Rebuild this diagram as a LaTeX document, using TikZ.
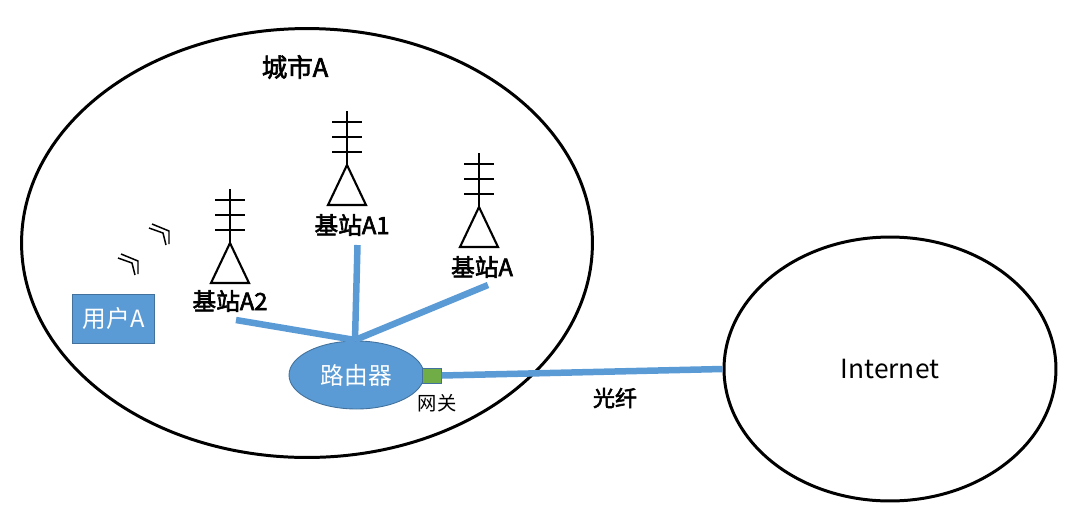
\documentclass[tikz,border=0pt]{standalone}
\usepackage{fontspec}
\setmainfont{Noto Sans CJK SC}
\newfontfamily\tagfont[FakeBold=2.5]{Noto Sans CJK SC}
\usepackage{tikz}
\usetikzlibrary{shapes.geometric}
\definecolor{linecolor}{HTML}{5B9BD5}
\definecolor{edgecolor}{HTML}{41719C}
\definecolor{gatecolor}{HTML}{70AD47}
\tikzset{
  area/.style={draw=black,line width=1.7pt,ellipse,inner sep=0pt},
  link/.style={linecolor,line width=3.7pt},
  tower/.style={black,line width=1.2pt},
  tag/.style={font=\fontsize{13.5}{15}\selectfont\tagfont,inner sep=0pt},
  inbox/.style={draw=edgecolor,line width=0.5pt,fill=linecolor,text=white,inner sep=0pt,font=\fontsize{13.5}{15}\selectfont}
}
\begin{document}
\begin{tikzpicture}[x=0.02cm,y=-0.02cm]
\useasboundingbox (0,0) rectangle (1073,515);
\node [area,minimum width=11.42cm,minimum height=8.58cm] (city) at (307,243) {};
\node [area,minimum width=6.64cm,minimum height=5.28cm,font=\fontsize{15}{17}\selectfont] (internet) at (890,369) {Internet};
\node [tag,font=\fontsize{14.5}{16}\selectfont\tagfont] (citytext) at (295,67) {城市A};
\node [inbox,ellipse,minimum width=2.7cm,minimum height=1.36cm] (router) at (356.5,375) {路由器};
\node [inbox,rectangle,minimum width=1.64cm,minimum height=0.98cm] (user) at (113.5,318.5) {用户A};
\node [draw=edgecolor,line width=0.5pt,fill=gatecolor,minimum width=0.37cm,minimum height=0.3cm,inner sep=0pt] (gate) at (432,375.5) {};
\node [inner sep=0pt,font=\fontsize{11}{13}\selectfont] (gatetext) at (437,403) {网关};
\node [tag,font=\fontsize{12.5}{14}\selectfont\tagfont] (fibertext) at (615,398) {光纤};
\node [tag] (siteone) at (352,225) {基站A1};
\node [tag] (sitetwo) at (230,301) {基站A2};
\node [tag] (sitemain) at (482,267) {基站A};
\coordinate (hub) at (355,340);
\coordinate (linkone) at (357.5,245);
\coordinate (linktwo) at (236,320);
\coordinate (linkmain) at (488,285);
\draw [link] (linkone) -- (hub);
\draw [link] (linktwo) -- (hub);
\draw [link] (linkmain) -- (hub);
\draw [link] (gate.east) -- (internet.west);
\foreach \tx/\ty in {230/243, 347/165, 479/207}
{
  \draw [tower] (\tx,\ty-54) -- (\tx,\ty);
  \foreach \b in {13,28,43}
    \draw [tower] (\tx-15,\ty-\b) -- (\tx+15,\ty-\b);
  \draw [tower] (\tx,\ty) -- (\tx-19,\ty+40) -- (\tx+19,\ty+40) -- cycle;
}
\foreach \cx/\cy in {0/0, -31/30}
{
  \draw [line width=0.85pt,shift={(\cx,\cy)}] (152,224) -- (169,231) -- (169,244);
  \draw [line width=0.85pt,shift={(\cx,\cy)}] (149,228) -- (163,233) -- (166,245);
}
\end{tikzpicture}
\end{document}
